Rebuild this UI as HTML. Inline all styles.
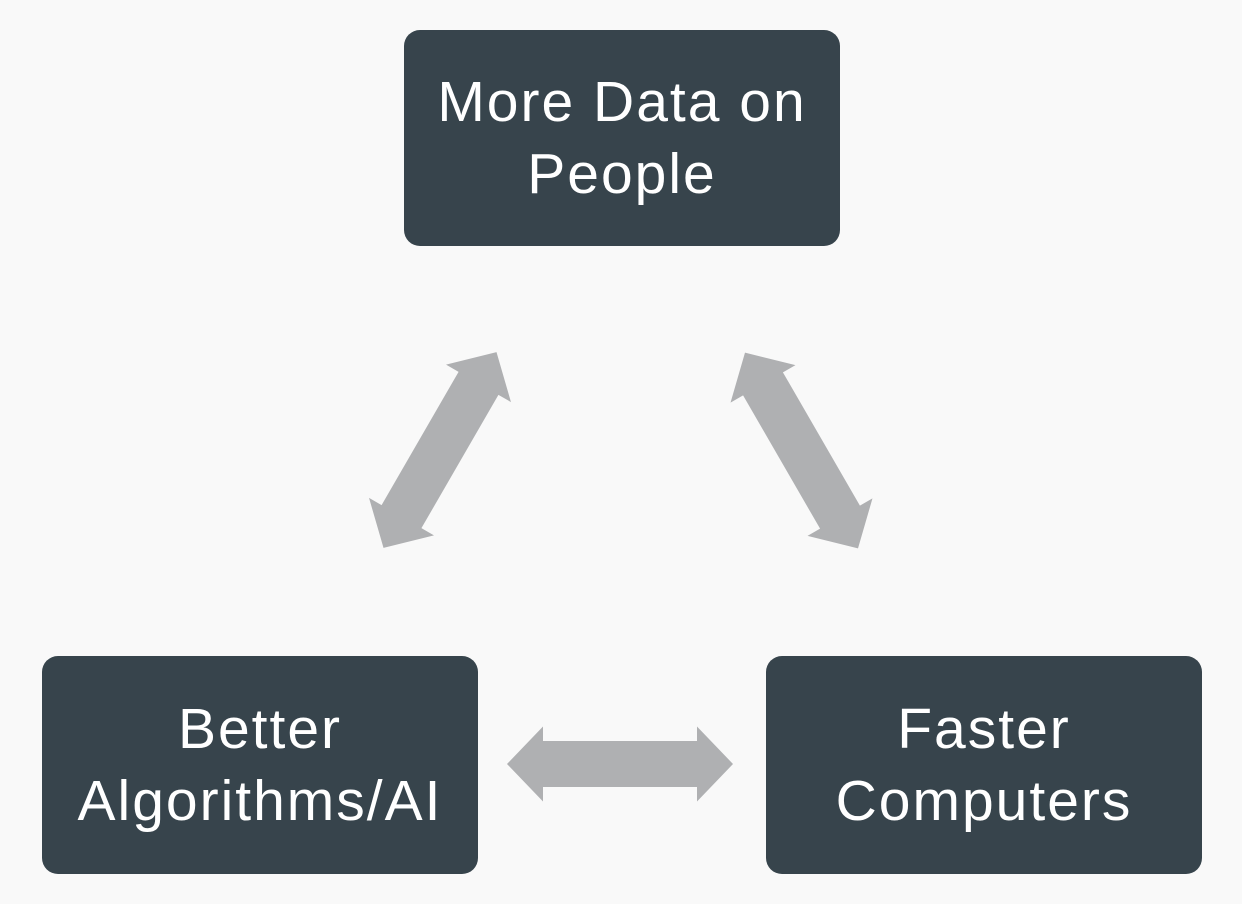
<!DOCTYPE html>
<html><head><style>
body{margin:0;background:#f9f9f9;width:1242px;height:904px;overflow:hidden;position:relative;font-family:"Liberation Sans",sans-serif}
.b{position:absolute;width:436px;height:216px;background:#37444c;border-radius:16px;color:#fff;font-size:57px;letter-spacing:2px;line-height:72px;display:flex;align-items:center;justify-content:center;text-align:center}
svg{position:absolute;left:0;top:0}
</style></head><body>
<div class="b" style="left:404px;top:30px">More Data on<br>People</div>
<div class="b" style="left:42px;top:656px;height:218px">Better<br>Algorithms/AI</div>
<div class="b" style="left:766px;top:656px;height:218px">Faster<br>Computers</div>
<svg width="1242" height="904">
<defs><polygon id="a" fill="#afb0b2" points="-113,0 -77,-37.5 -77,-23 77,-23 77,-37.5 113,0 77,37.5 77,23 -77,23 -77,37.5"/></defs>
<use href="#a" transform="translate(620,764)"/>
<use href="#a" transform="translate(440,450) rotate(-60)"/>
<use href="#a" transform="translate(801.5,450.5) rotate(60)"/>
</svg>
</body></html>
